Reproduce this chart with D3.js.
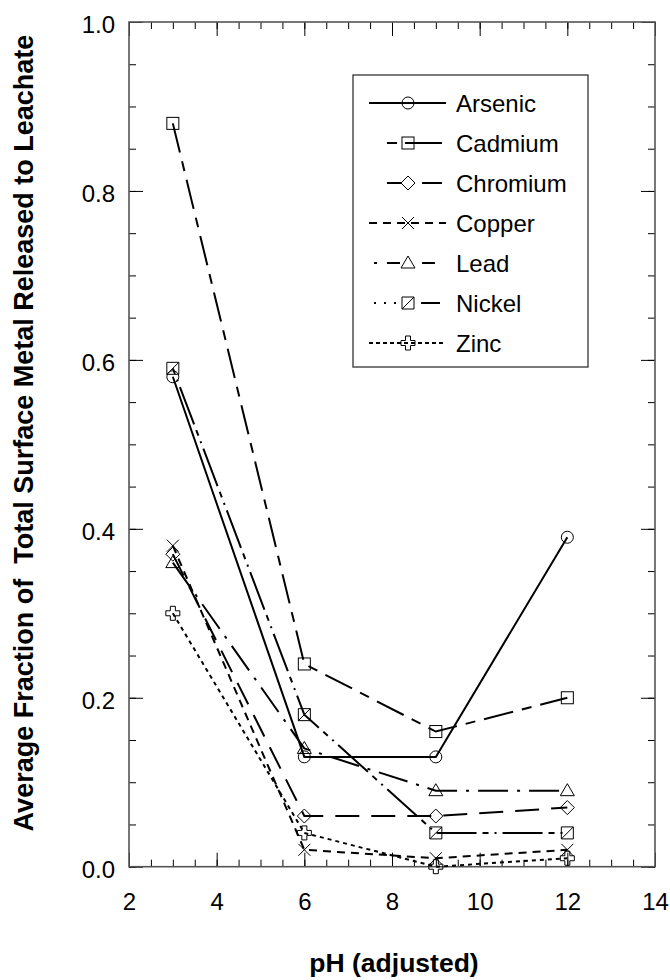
<!DOCTYPE html>
<html>
<head>
<meta charset="utf-8">
<script src="https://cdn.jsdelivr.net/npm/d3@7"></script>
<style>
  body { margin: 0; background: #fff; }
  text { font-family: "Liberation Sans", Arial, sans-serif; fill: #000; }
</style>
</head>
<body>
<div id="chart"></div>
<script>
// data
const phValues = [3, 6, 9, 12];
const metals = ["Arsenic", "Cadmium", "Chromium", "Copper", "Lead", "Nickel", "Zinc"];
const arsenic  = [0.58, 0.13, 0.13, 0.39];
const cadmium  = [0.88, 0.24, 0.16, 0.20];
const chromium = [0.37, 0.06, 0.06, 0.07];
const copper   = [0.38, 0.02, 0.01, 0.02];
const lead     = [0.36, 0.14, 0.09, 0.09];
const nickel   = [0.59, 0.18, 0.04, 0.04];
const zinc     = [0.30, 0.04, 0.00, 0.01];
const xTicks = [2, 4, 6, 8, 10, 12, 14];
const yTicks = [0.0, 0.2, 0.4, 0.6, 0.8, 1.0];

const seriesValues = [arsenic, cadmium, chromium, copper, lead, nickel, zinc];
// line dash + marker per metal
const dashes  = ["none", "30,9,10,9", "24,12", "8,6", "30,9,3,9", "6,6,2,6,40,6", "4,4"];
const symbols = ["circle", "square", "diamond", "cross", "triangle", "squareDiag", "plus"];
// legend samples are drawn a bit differently (short pieces either side of the marker)
const legendDash = ["none", "10,8,40", "15,20,20", "8,6", "3,10,13,22,13", "2,8,2,8,2,25,19", "4,3"];
const legendSpan = [[369, 446], [387, 442], [387, 442], [369, 446], [374, 436], [374, 442], [369, 446]];

const W = 670, H = 980;
const plotLeft = 129, plotRight = 655, plotTop = 22, plotBottom = 866.7;

const svg = d3.select("#chart").append("svg")
  .attr("width", W)
  .attr("height", H);

const x = d3.scaleLinear().domain([2, 14]).range([plotLeft, plotRight]);
const y = d3.scaleLinear().domain([0, 1]).range([plotBottom, plotTop]);

// minor ticks
const xMinor = d3.range(2, 14.01, 0.5);
const yMinor = d3.range(0, 1.001, 0.05);

function tidy(g) {
  g.select(".domain").remove();
  g.selectAll(".tick line").attr("stroke", "#000").attr("stroke-width", 1);
}

// bottom
svg.append("g").attr("transform", "translate(0," + plotBottom + ")")
  .call(d3.axisBottom(x).tickValues(xMinor).tickSize(-7).tickFormat(""))
  .call(tidy);
svg.append("g").attr("transform", "translate(0," + plotBottom + ")")
  .call(d3.axisBottom(x).tickValues(xTicks).tickSize(-14).tickPadding(26).tickFormat(d3.format("d")))
  .call(tidy)
  .selectAll("text").style("font-size", "24px").attr("fill", "#000");
// top
svg.append("g").attr("transform", "translate(0," + plotTop + ")")
  .call(d3.axisTop(x).tickValues(xMinor).tickSize(-7).tickFormat(""))
  .call(tidy);
svg.append("g").attr("transform", "translate(0," + plotTop + ")")
  .call(d3.axisTop(x).tickValues(xTicks).tickSize(-14).tickFormat(""))
  .call(tidy);
// left
svg.append("g").attr("transform", "translate(" + plotLeft + ",0)")
  .call(d3.axisLeft(y).tickValues(yMinor).tickSize(-7).tickFormat(""))
  .call(tidy);
svg.append("g").attr("transform", "translate(" + plotLeft + ",0)")
  .call(d3.axisLeft(y).tickValues(yTicks).tickSize(-14).tickPadding(14).tickFormat(d3.format(".1f")))
  .call(tidy)
  .selectAll("text").style("font-size", "24px").attr("dy", "0.45em").attr("fill", "#000");
// right
svg.append("g").attr("transform", "translate(" + plotRight + ",0)")
  .call(d3.axisRight(y).tickValues(yMinor).tickSize(-7).tickFormat(""))
  .call(tidy);
svg.append("g").attr("transform", "translate(" + plotRight + ",0)")
  .call(d3.axisRight(y).tickValues(yTicks).tickSize(-14).tickFormat(""))
  .call(tidy);

// frame
svg.append("rect")
  .attr("x", plotLeft).attr("y", plotTop)
  .attr("width", plotRight - plotLeft).attr("height", plotBottom - plotTop)
  .attr("fill", "none").attr("stroke", "#555").attr("stroke-width", 1.6);

// marker shapes, centred on 0,0
function marker(g, type) {
  const s = 6;
  let el;
  if (type === "circle") {
    el = g.append("circle").attr("r", s);
  } else if (type === "square") {
    el = g.append("rect").attr("x", -s).attr("y", -s).attr("width", 2 * s).attr("height", 2 * s);
  } else if (type === "squareDiag") {
    el = g.append("path").attr("d", `M${-s},${-s}H${s}V${s}H${-s}Z M${-s},${s}L${s},${-s}`);
  } else if (type === "diamond") {
    el = g.append("path").attr("d", `M0,${-s - 1}L${s + 1},0L0,${s + 1}L${-s - 1},0Z`);
  } else if (type === "cross") {
    el = g.append("path").attr("d", `M${-s},${-s}L${s},${s}M${-s},${s}L${s},${-s}`);
  } else if (type === "triangle") {
    el = g.append("path").attr("d", `M0,${-s - 1}L${s + 1},${s - 1}L${-s - 1},${s - 1}Z`);
  } else if (type === "plus") {
    const a = 2.5, b = s + 1;
    el = g.append("path").attr("d",
      `M${-a},${-b}H${a}V${-a}H${b}V${a}H${a}V${b}H${-a}V${a}H${-b}V${-a}H${-a}Z`);
  }
  el.attr("fill", "none").attr("stroke", "#000").attr("stroke-width", 1);
}

const line = d3.line()
  .x(d => x(d[0]))
  .y(d => y(d[1]));

// series
seriesValues.forEach(function(vals, i) {
  const pts = phValues.map((p, j) => [p, vals[j]]);
  svg.append("path")
    .datum(pts)
    .attr("d", line)
    .attr("fill", "none")
    .attr("stroke", "#000")
    .attr("stroke-width", 2)
    .attr("stroke-dasharray", dashes[i]);
  pts.forEach(function(p) {
    const g = svg.append("g").attr("transform", "translate(" + x(p[0]) + "," + y(p[1]) + ")");
    marker(g, symbols[i]);
  });
});

// legend
const lg = svg.append("g");
lg.append("rect")
  .attr("x", 353).attr("y", 75)
  .attr("width", 235).attr("height", 292)
  .attr("fill", "#fff").attr("stroke", "#333").attr("stroke-width", 1.3);
metals.forEach(function(name, i) {
  const ry = 103 + i * 40;
  lg.append("line")
    .attr("x1", legendSpan[i][0]).attr("x2", legendSpan[i][1])
    .attr("y1", ry).attr("y2", ry)
    .attr("stroke", "#000").attr("stroke-width", 1.8)
    .attr("stroke-dasharray", legendDash[i]);
  const g = lg.append("g").attr("transform", "translate(408," + ry + ")");
  marker(g, symbols[i]);
  lg.append("text")
    .attr("x", 456).attr("y", ry)
    .attr("dy", "0.36em")
    .style("font-size", "24px")
    .text(name);
});

// axis titles
svg.append("text")
  .attr("x", 394)
  .attr("y", 972)
  .attr("text-anchor", "middle")
  .style("font-size", "26.5px")
  .style("font-weight", "bold")
  .text("pH (adjusted)");

svg.append("text")
  .attr("transform", "translate(33,433) rotate(-90)")
  .attr("text-anchor", "middle")
  .style("font-size", "27px")
  .style("font-weight", "bold")
  .style("white-space", "pre")
  .text("Average Fraction of  Total Surface Metal Released to Leachate");
</script>
</body>
</html>
